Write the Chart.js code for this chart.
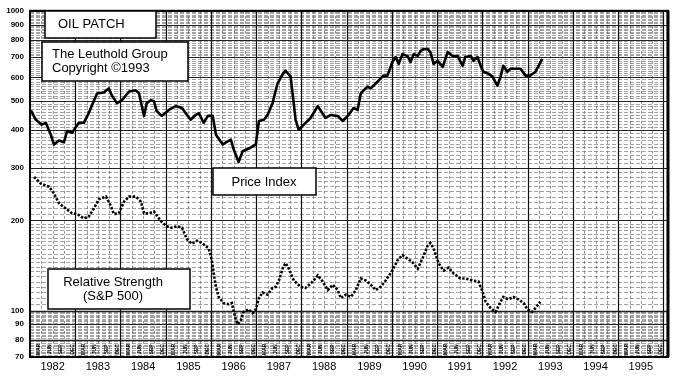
<!DOCTYPE html>
<html>
<head>
<meta charset="utf-8">
<script src="https://cdn.jsdelivr.net/npm/chart.js@4"></script>
<style>
  html, body { margin: 0; padding: 0; background: #fff; }
  #wrap { width: 674px; height: 376px; }
</style>
</head>
<body>
<div id="wrap"><canvas id="oil-chart" width="674" height="376"></canvas></div>
<script>
// Oil Patch: price index and relative strength vs S&P 500 (log scale)
const yearLabels = [1982, 1983, 1984, 1985, 1986, 1987, 1988, 1989, 1990, 1991, 1992, 1993, 1994, 1995];
const yTickLabels = [70, 80, 90, 100, 200, 300, 400, 500, 600, 700, 800, 900, 1000];

const priceYears = [1982.02, 1982.13, 1982.26, 1982.35, 1982.46, 1982.53, 1982.64, 1982.75, 1982.82, 1982.93,
  1983.08, 1983.19, 1983.30, 1983.37, 1983.48, 1983.63, 1983.74, 1983.81, 1983.92,
  1984.03, 1984.19, 1984.34, 1984.41, 1984.52, 1984.58, 1984.67, 1984.74, 1984.80, 1984.91,
  1985.07, 1985.22, 1985.36, 1985.47, 1985.55, 1985.66, 1985.73, 1985.84, 1985.93,
  1986.04, 1986.11, 1986.26, 1986.33, 1986.44, 1986.50, 1986.61, 1986.70, 1986.88, 1986.99,
  1987.06, 1987.17, 1987.25, 1987.36, 1987.47, 1987.59, 1987.65, 1987.76, 1987.87, 1987.94,
  1988.05, 1988.20, 1988.36, 1988.53, 1988.64, 1988.80, 1988.91,
  1989.04, 1989.15, 1989.24, 1989.31, 1989.46, 1989.53, 1989.68, 1989.81, 1989.90,
  1990.01, 1990.08, 1990.15, 1990.23, 1990.34, 1990.41, 1990.48, 1990.57, 1990.63, 1990.70, 1990.79, 1990.85, 1990.92,
  1991.01, 1991.12, 1991.23, 1991.34, 1991.45, 1991.56, 1991.62, 1991.74, 1991.80, 1991.89, 1991.96,
  1992.02, 1992.13, 1992.22, 1992.33, 1992.40, 1992.46, 1992.55, 1992.62, 1992.73, 1992.84, 1992.95,
  1993.06, 1993.17, 1993.32];
const priceValues = [465, 433, 417, 423, 386, 358, 369, 364, 398, 392,
  423, 423, 456, 484, 530, 534, 551, 522, 492,
  503, 538, 543, 530, 446, 492, 503, 499, 463, 446,
  467, 481, 474, 449, 433, 449, 456, 423, 446,
  446, 386, 358, 364, 372, 345, 313, 340, 350, 358,
  429, 433, 449, 492, 572, 617, 631, 603, 433, 401,
  417, 439, 481, 439, 449, 446, 429,
  449, 474, 467, 530, 559, 551, 580, 608, 608,
  675, 701, 665, 717, 707, 675, 717, 707, 734, 745, 745, 728, 665,
  681, 650, 728, 707, 707, 655, 701, 707, 681, 701, 655,
  626, 617, 603, 563, 603, 655, 626, 641, 641, 641, 608,
  608, 626, 691];

const rsYears = [1982.09, 1982.24, 1982.42, 1982.53, 1982.64, 1982.79, 1982.93,
  1983.04, 1983.19, 1983.30, 1983.41, 1983.52, 1983.68, 1983.79, 1983.85, 1983.96,
  1984.08, 1984.19, 1984.34, 1984.45, 1984.52, 1984.63, 1984.74, 1984.89,
  1985.02, 1985.13, 1985.25, 1985.36, 1985.47, 1985.58, 1985.69, 1985.80, 1985.95,
  1986.02, 1986.06, 1986.11, 1986.17, 1986.28, 1986.39, 1986.46, 1986.55, 1986.59, 1986.66, 1986.72, 1986.83, 1986.92, 1986.99,
  1987.06, 1987.14, 1987.25, 1987.36, 1987.43, 1987.50, 1987.59, 1987.65, 1987.72, 1987.83, 1987.98,
  1988.09, 1988.25, 1988.36, 1988.47, 1988.58, 1988.69, 1988.80, 1988.87, 1988.98,
  1989.09, 1989.20, 1989.31, 1989.42, 1989.53, 1989.64, 1989.75, 1989.86,
  1990.01, 1990.12, 1990.23, 1990.34, 1990.45, 1990.57, 1990.68, 1990.79, 1990.85, 1990.92,
  1991.03, 1991.14, 1991.25, 1991.36, 1991.51, 1991.62, 1991.78, 1991.91,
  1992.00, 1992.07, 1992.18, 1992.29, 1992.40, 1992.46, 1992.57, 1992.68, 1992.79, 1992.91, 1992.99,
  1993.10, 1993.17, 1993.28];
const rsValues = [279, 265, 259, 246, 228, 219, 211,
  210, 203, 206, 219, 235, 240, 223, 210, 211,
  231, 240, 240, 231, 211, 211, 214, 199,
  191, 189, 191, 189, 173, 167, 171, 168, 161,
  147, 133, 120, 111, 106, 105, 106, 93, 90, 93, 99, 101, 98, 101,
  110, 115, 113, 119, 120, 126, 139, 144, 138, 126, 120,
  119, 125, 131, 125, 117, 122, 117, 110, 113,
  111, 117, 128, 126, 122, 117, 120, 126,
  136, 147, 153, 149, 145, 138, 150, 165, 168, 161,
  144, 136, 139, 133, 128, 128, 126, 125,
  116, 107, 102, 99, 107, 111, 109, 111, 109, 106, 101,
  99, 102, 107];

const quarterNames = ['MAR', 'JUN', 'SEP', 'DEC'];

const FONT = '"Liberation Sans", Arial, Helvetica, sans-serif';

function toPoints(xs, ys) {
  return xs.map((x, i) => ({ x: x, y: ys[i] }));
}

// grid paper, boxes and the quarter strip are drawn here
const paperPlugin = {
  id: 'paper',
  beforeDatasetsDraw(chart) {
    const { ctx, chartArea: a, scales } = chart;
    const xs = scales.x, ys = scales.y;
    ctx.save();
    ctx.beginPath();
    ctx.rect(a.left, a.top, a.right - a.left, a.bottom - a.top);
    ctx.clip();

    // horizontal minor lines
    const minors = [];
    for (let v = 71; v < 100; v++) minors.push(v);
    for (let v = 105; v < 200; v += 5) minors.push(v);
    for (let v = 210; v < 1000; v += 10) if (v % 100 !== 0) minors.push(v);
    ctx.strokeStyle = '#7a7a7a';
    ctx.lineWidth = 0.7;
    ctx.setLineDash([4, 2]);
    minors.forEach(v => {
      const y = Math.round(ys.getPixelForValue(v)) + 0.5;
      ctx.beginPath(); ctx.moveTo(a.left, y); ctx.lineTo(a.right, y); ctx.stroke();
    });

    // quarter verticals
    ctx.strokeStyle = '#666';
    ctx.lineWidth = 0.7;
    ctx.setLineDash([3, 2]);
    for (let yr = 1982; yr < 1996; yr++) {
      for (let q = 1; q < 4; q++) {
        const x = Math.round(xs.getPixelForValue(yr + q / 4)) + 0.5;
        ctx.beginPath(); ctx.moveTo(x, a.top); ctx.lineTo(x, a.bottom); ctx.stroke();
      }
    }
    ctx.setLineDash([]);

    // major horizontal lines
    ctx.strokeStyle = '#222';
    yTickLabels.forEach(v => {
      ctx.lineWidth = (v === 80 || v === 100) ? 1.6 : 1;
      const y = Math.round(ys.getPixelForValue(v)) + 0.5;
      ctx.beginPath(); ctx.moveTo(a.left, y); ctx.lineTo(a.right, y); ctx.stroke();
    });

    // year verticals
    ctx.lineWidth = 1.2;
    ctx.strokeStyle = '#111';
    for (let yr = 1983; yr <= 1996; yr++) {
      const x = Math.round(xs.getPixelForValue(yr)) + 0.5;
      ctx.beginPath(); ctx.moveTo(x, a.top); ctx.lineTo(x, a.bottom); ctx.stroke();
    }

    // quarter markers in the bottom strip
    ctx.fillStyle = '#000';
    ctx.font = 'bold 5px ' + FONT;
    ctx.textAlign = 'center';
    ctx.textBaseline = 'middle';
    const yMid = (ys.getPixelForValue(80) + ys.getPixelForValue(70)) / 2 + 1;
    for (let yr = 1982; yr < 1996; yr++) {
      quarterNames.forEach((name, q) => {
        const x = xs.getPixelForValue(yr + (q + 1) / 4) - 3;
        ctx.save();
        ctx.translate(x, yMid);
        ctx.rotate(-Math.PI / 2);
        ctx.fillText(name, 0, 0);
        ctx.restore();
      });
    }
    ctx.restore();
  },
  afterDatasetsDraw(chart) {
    const { ctx, chartArea: a } = chart;
    ctx.save();
    // frame
    ctx.strokeStyle = '#000';
    ctx.lineWidth = 2;
    ctx.strokeRect(a.left, a.top, a.right - a.left, a.bottom - a.top);
    ctx.lineWidth = 3;
    ctx.beginPath(); ctx.moveTo(a.right, a.top); ctx.lineTo(a.right, a.bottom); ctx.stroke();

    function box(x, y, w, h, lines, tx, align) {
      ctx.fillStyle = '#fff';
      ctx.fillRect(x, y, w, h);
      ctx.lineWidth = 1.5;
      ctx.strokeStyle = '#000';
      ctx.strokeRect(x, y, w, h);
      ctx.fillStyle = '#000';
      ctx.font = '13px ' + FONT;
      ctx.textAlign = align;
      ctx.textBaseline = 'middle';
      lines.forEach(l => ctx.fillText(l.text, tx, l.y));
    }
    box(45, 11, 111, 27, [{ text: 'OIL PATCH', y: 24 }], 58, 'left');
    box(42, 42, 146, 39, [{ text: 'The Leuthold Group', y: 54 }, { text: 'Copyright \u00a91993', y: 68 }], 52, 'left');
    box(213, 168, 103, 27, [{ text: 'Price Index', y: 182 }], 264, 'center');
    box(48, 269, 142, 40, [{ text: 'Relative Strength', y: 282 }, { text: '(S&P 500)', y: 296 }], 113, 'center');
    ctx.restore();
  }
};

const ctx = document.getElementById('oil-chart').getContext('2d');
const chart = new Chart(ctx, {
  type: 'line',
  data: {
    datasets: [
      {
        label: 'Price Index',
        data: toPoints(priceYears, priceValues),
        borderColor: '#000',
        borderWidth: 2.6,
        pointRadius: 0,
        tension: 0,
        borderJoinStyle: 'round'
      },
      {
        label: 'Relative Strength (S&P 500)',
        data: toPoints(rsYears, rsValues),
        borderColor: '#000',
        borderWidth: 2.6,
        borderDash: [2.4, 1.6],
        pointRadius: 0,
        tension: 0
      }
    ]
  },
  options: {
    responsive: false,
    animation: false,
    layout: { padding: { top: 6, right: 6, left: 0, bottom: 0 } },
    plugins: {
      legend: { display: false },
      tooltip: { enabled: false }
    },
    scales: {
      x: {
        type: 'linear',
        min: 1982,
        max: 1996.1,
        grid: { display: false, drawTicks: false },
        border: { display: false },
        afterBuildTicks: (scale) => {
          scale.ticks = yearLabels.map(y => ({ value: y + 0.5 }));
        },
        afterFit: (scale) => { scale.height = 19; },
        ticks: {
          autoSkip: false,
          maxRotation: 0,
          padding: 3,
          color: '#000',
          font: { family: FONT, size: 11 },
          callback: (v) => String(Math.floor(v))
        }
      },
      y: {
        type: 'logarithmic',
        min: 70,
        max: 1000,
        grid: { display: false, drawTicks: false },
        border: { display: false },
        afterBuildTicks: (scale) => {
          scale.ticks = yTickLabels.map(v => ({ value: v }));
        },
        afterFit: (scale) => { scale.width = 30; },
        ticks: {
          autoSkip: false,
          padding: 6,
          color: '#000',
          font: { family: FONT, size: 8, weight: 'bold' },
          callback: (v) => String(v)
        }
      }
    }
  },
  plugins: [paperPlugin]
});
</script>
</body>
</html>
